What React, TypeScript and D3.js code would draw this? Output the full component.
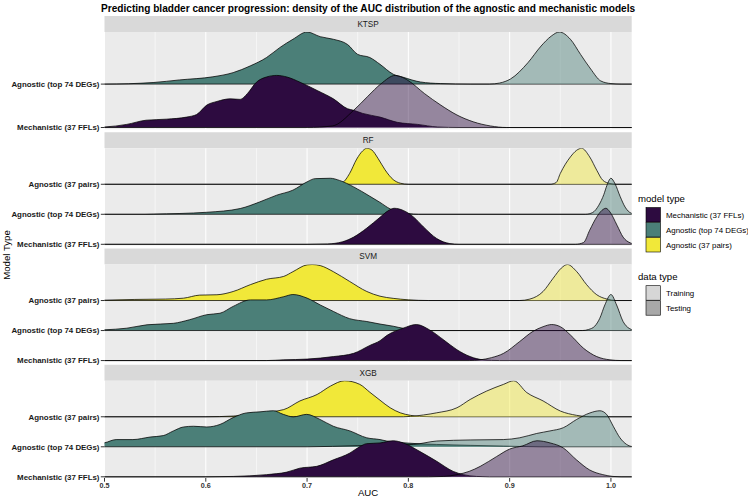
import React, { useEffect } from "react";
import * as d3 from "d3";

// ---------- data ----------
const facets = ["KTSP", "RF", "SVM", "XGB"];
const modelTypes = ["Mechanistic (37 FFLs)", "Agnostic (top 74 DEGs)", "Agnostic (37 pairs)"];
const modelColors = ["#2D0B40", "#4B7F78", "#F1E839"];
const dataTypes = ["Training", "Testing"];
const dataKeyColors = ["#D6D6D6", "#A8A8A8"];
// model indices present in each facet (bottom to top)
const facetModels = [[0, 1], [0, 1, 2], [0, 1, 2], [0, 1, 2]];
const xTicks = [0.5, 0.6, 0.7, 0.8, 0.9, 1.0];
const xTickLabels = ["0.5", "0.6", "0.7", "0.8", "0.9", "1.0"];
const xMinor = [0.55, 0.65, 0.75, 0.85, 0.95];

// scaled densities (max = 1): [AUC, density]
const ktspTop74Train = [[0.48, 0], [0.5, 0], [0.548, 0.03], [0.574, 0.08], [0.607, 0.14], [0.627, 0.22], [0.644, 0.35], [0.66, 0.51], [0.673, 0.7], [0.686, 0.86], [0.7, 1.0], [0.713, 0.91], [0.726, 0.86], [0.74, 0.76], [0.75, 0.57], [0.762, 0.51], [0.772, 0.38], [0.785, 0.19], [0.795, 0.13], [0.812, 0.04], [0.832, 0.01], [0.861, 0]];
const ktspTop74Test = [[0.88, 0], [0.89, 0.02], [0.901, 0.1], [0.918, 0.41], [0.931, 0.73], [0.941, 0.92], [0.949, 1.0], [0.96, 0.86], [0.97, 0.57], [0.98, 0.29], [0.99, 0.06], [1.0, 0.01], [1.01, 0]];
const ktspMechTrain = [[0.48, 0], [0.5, 0.01], [0.522, 0.06], [0.541, 0.14], [0.561, 0.16], [0.581, 0.2], [0.591, 0.25], [0.601, 0.43], [0.611, 0.5], [0.624, 0.55], [0.634, 0.54], [0.641, 0.65], [0.65, 0.87], [0.66, 0.97], [0.67, 1.0], [0.68, 0.97], [0.693, 0.87], [0.71, 0.71], [0.726, 0.55], [0.74, 0.36], [0.746, 0.33], [0.755, 0.27], [0.772, 0.2], [0.789, 0.1], [0.809, 0.06], [0.829, 0.01], [0.85, 0]];
const ktspMechTest = [[0.7, 0], [0.725, 0.03], [0.746, 0.33], [0.76, 0.6], [0.773, 0.84], [0.787, 1.0], [0.792, 0.98], [0.8, 0.9], [0.816, 0.65], [0.832, 0.43], [0.848, 0.24], [0.864, 0.11], [0.881, 0.03], [0.897, 0]];

const rfPairsTrain = [[0.72, 0], [0.728, 0.01], [0.735, 0.05], [0.742, 0.3], [0.749, 0.7], [0.755, 0.93], [0.759, 1.0], [0.764, 0.95], [0.77, 0.72], [0.777, 0.4], [0.785, 0.13], [0.792, 0.03], [0.8, 0]];
const rfPairsTest = [[0.94, 0], [0.946, 0.05], [0.95, 0.3], [0.96, 0.76], [0.966, 0.94], [0.971, 1.0], [0.979, 0.76], [0.986, 0.39], [0.992, 0.11], [0.999, 0.02], [1.005, 0]];
const rfTop74Train = [[0.54, 0], [0.548, 0.005], [0.601, 0.056], [0.634, 0.16], [0.653, 0.34], [0.67, 0.53], [0.686, 0.67], [0.7, 0.9], [0.708, 0.99], [0.723, 1.0], [0.732, 0.94], [0.746, 0.76], [0.762, 0.5], [0.772, 0.33], [0.782, 0.15], [0.792, 0.06], [0.8, 0.02], [0.81, 0]];
const rfTop74Test = [[0.975, 0], [0.982, 0.05], [0.988, 0.25], [0.993, 0.55], [0.996, 0.8], [1.0, 1.0], [1.004, 0.85], [1.009, 0.5], [1.014, 0.2], [1.02, 0.03], [1.025, 0]];
const rfMechTrain = [[0.7, 0], [0.72, 0.01], [0.735, 0.07], [0.746, 0.2], [0.759, 0.45], [0.772, 0.75], [0.78, 0.93], [0.786, 1.0], [0.795, 0.94], [0.805, 0.76], [0.815, 0.48], [0.828, 0.16], [0.841, 0.02], [0.85, 0]];
const rfMechTest = [[0.965, 0], [0.973, 0.05], [0.979, 0.39], [0.986, 0.76], [0.991, 0.94], [0.995, 1.0], [0.999, 0.9], [1.006, 0.53], [1.012, 0.2], [1.019, 0.04], [1.025, 0]];

const svmPairsTrain = [[0.48, 0], [0.5, 0.01], [0.53, 0.03], [0.56, 0.04], [0.578, 0.065], [0.594, 0.15], [0.611, 0.16], [0.627, 0.25], [0.644, 0.44], [0.66, 0.59], [0.677, 0.67], [0.686, 0.8], [0.7, 0.99], [0.705, 1.0], [0.713, 0.97], [0.726, 0.8], [0.742, 0.53], [0.759, 0.25], [0.772, 0.12], [0.785, 0.06], [0.8, 0.02], [0.82, 0]];
const svmPairsTest = [[0.91, 0], [0.92, 0.04], [0.933, 0.25], [0.943, 0.62], [0.951, 0.9], [0.957, 1.0], [0.966, 0.81], [0.976, 0.44], [0.986, 0.16], [0.996, 0.04], [1.005, 0]];
const svmTop74Train = [[0.48, 0], [0.5, 0.02], [0.522, 0.065], [0.542, 0.16], [0.568, 0.2], [0.584, 0.3], [0.601, 0.44], [0.614, 0.48], [0.627, 0.67], [0.644, 0.85], [0.66, 0.85], [0.677, 0.94], [0.686, 1.0], [0.7, 0.9], [0.713, 0.71], [0.726, 0.53], [0.742, 0.33], [0.759, 0.25], [0.772, 0.18], [0.785, 0.12], [0.795, 0.06], [0.81, 0.01], [0.82, 0]];
const svmTop74Test = [[0.972, 0], [0.978, 0.03], [0.984, 0.12], [0.989, 0.34], [0.994, 0.71], [1.0, 1.0], [1.0056, 0.71], [1.012, 0.25], [1.018, 0.06], [1.025, 0]];
const svmMechTrain = [[0.66, 0], [0.677, 0.02], [0.7, 0.04], [0.726, 0.11], [0.746, 0.2], [0.762, 0.42], [0.772, 0.55], [0.779, 0.7], [0.795, 0.9], [0.808, 1.0], [0.821, 0.85], [0.835, 0.57], [0.848, 0.3], [0.861, 0.11], [0.874, 0.02], [0.89, 0]];
const svmMechTest = [[0.86, 0], [0.871, 0.02], [0.882, 0.08], [0.894, 0.2], [0.91, 0.53], [0.923, 0.81], [0.933, 0.94], [0.9415, 1.0], [0.95, 0.94], [0.96, 0.71], [0.973, 0.34], [0.986, 0.11], [0.999, 0.02], [1.01, 0]];

const xgbPairsTrain = [[0.6, 0], [0.627, 0.02], [0.654, 0.11], [0.677, 0.2], [0.693, 0.44], [0.71, 0.62], [0.723, 0.85], [0.737, 1.0], [0.752, 0.9], [0.762, 0.68], [0.772, 0.46], [0.782, 0.25], [0.792, 0.11], [0.802, 0.04], [0.811, 0.01], [0.825, 0]];
const xgbPairsTest = [[0.795, 0], [0.802, 0.01], [0.815, 0.05], [0.828, 0.11], [0.848, 0.25], [0.861, 0.48], [0.877, 0.71], [0.894, 0.9], [0.904, 1.0], [0.917, 0.67], [0.933, 0.44], [0.95, 0.16], [0.966, 0.04], [0.979, 0]];
const xgbTop74Train = [[0.48, 0.06], [0.5, 0.11], [0.5115, 0.2], [0.528, 0.2], [0.545, 0.27], [0.558, 0.31], [0.568, 0.44], [0.578, 0.55], [0.588, 0.57], [0.601, 0.55], [0.614, 0.62], [0.627, 0.81], [0.64, 0.94], [0.6535, 0.97], [0.6667, 1.0], [0.6765, 0.9], [0.6864, 0.83], [0.6996, 0.9], [0.7127, 0.76], [0.7259, 0.57], [0.7423, 0.44], [0.7588, 0.25], [0.772, 0.2], [0.7786, 0.16], [0.795, 0.11], [0.828, 0.065], [0.861, 0.04], [0.894, 0.02], [0.93, 0]];
const xgbTop74Test = [[0.7, 0], [0.75, 0.03], [0.78, 0.05], [0.8048, 0.065], [0.828, 0.16], [0.861, 0.19], [0.8937, 0.2], [0.91, 0.25], [0.9267, 0.37], [0.9398, 0.44], [0.953, 0.53], [0.9662, 0.76], [0.9793, 0.94], [0.9891, 1.0], [0.9957, 0.9], [1.0023, 0.57], [1.0089, 0.25], [1.0155, 0.065], [1.0205, 0.01], [1.03, 0]];
const xgbMechTrain = [[0.6, 0], [0.627, 0.01], [0.66, 0.06], [0.68, 0.13], [0.693, 0.24], [0.7095, 0.29], [0.7259, 0.47], [0.7423, 0.66], [0.7522, 0.84], [0.7588, 0.92], [0.772, 0.94], [0.7851, 1.0], [0.795, 0.94], [0.8115, 0.7], [0.828, 0.43], [0.8443, 0.15], [0.8542, 0.06], [0.8674, 0.01], [0.88, 0]];
const xgbMechTest = [[0.82, 0], [0.835, 0.01], [0.848, 0.06], [0.86, 0.15], [0.871, 0.29], [0.887, 0.56], [0.9, 0.77], [0.913, 0.86], [0.927, 1.0], [0.94, 0.94], [0.953, 0.8], [0.966, 0.47], [0.979, 0.19], [0.992, 0.06], [1.002, 0.01], [1.01, 0]];

// curves[facet][model][dataType]
const curves: number[][][][][] = [
  [[ktspMechTrain, ktspMechTest], [ktspTop74Train, ktspTop74Test]],
  [[rfMechTrain, rfMechTest], [rfTop74Train, rfTop74Test], [rfPairsTrain, rfPairsTest]],
  [[svmMechTrain, svmMechTest], [svmTop74Train, svmTop74Test], [svmPairsTrain, svmPairsTest]],
  [[xgbMechTrain, xgbMechTest], [xgbTop74Train, xgbTop74Test], [xgbPairsTrain, xgbPairsTest]],
];

// ---------- layout ----------
const W = 748, H = 498;
const FONT = "'Liberation Sans', Arial, Helvetica, sans-serif";
const panelLeft = 104.5, panelRight = 631.7;
const topY = 16, stripH = 16, panelH = 97.25, gapH = 3;
const ridgeScale = 1.2;
const testAlpha = 0.45;

export default function App() {
  useEffect(() => {
    document.body.style.margin = "0";
  }, []);

  const x = d3.scaleLinear().domain([0.5, 1.0205]).range([panelLeft, panelRight]);

  const panels = facets.map((name, fi) => {
    const stripTop = topY + fi * (stripH + panelH + gapH);
    const pTop = stripTop + stripH;
    const pBot = pTop + panelH;
    const models = facetModels[fi];
    const y = d3.scaleLinear().domain([0.96, models.length + ridgeScale]).range([pBot, pTop]);
    return { name, fi, stripTop, pTop, pBot, models, y };
  });

  const clipX0 = x.range()[0], clipX1 = x.range()[1];

  return (
    <svg width={W} height={H} style={{ position: "absolute", left: 0, top: 0, background: "#fff" }} fontFamily={FONT}>
      <defs>
        {panels.map((p) => (
          <clipPath id={`clip${p.fi}`} key={p.fi}>
            <rect x={clipX0} y={p.pTop} width={clipX1 - clipX0} height={p.pBot - p.pTop} />
          </clipPath>
        ))}
      </defs>
      <rect x={0} y={0} width={W} height={H} fill="#fff" />
      <text x={(panelLeft + panelRight) / 2} y={11.5} textAnchor="middle" fontSize={10.1} fontWeight="bold" fill="#000">
        Predicting bladder cancer progression: density of the AUC distribution of the agnostic and mechanistic models
      </text>

      {panels.map((p) => {
        const { y } = p;
        return (
          <g key={p.name}>
            {/* strip */}
            <rect x={clipX0} y={p.stripTop} width={clipX1 - clipX0} height={stripH} fill="#D9D9D9" />
            <text x={(clipX0 + clipX1) / 2} y={p.stripTop + stripH / 2} dy="0.35em" textAnchor="middle" fontSize={8.2} fill="#1A1A1A">
              {p.name}
            </text>
            {/* panel */}
            <rect x={clipX0} y={p.pTop} width={clipX1 - clipX0} height={p.pBot - p.pTop} fill="#EBEBEB" />
            {xMinor.map((t) => (
              <line key={"mi" + t} x1={x(t)} x2={x(t)} y1={p.pTop} y2={p.pBot} stroke="#fff" strokeWidth={0.55} />
            ))}
            {xTicks.map((t) => (
              <line key={"ma" + t} x1={x(t)} x2={x(t)} y1={p.pTop} y2={p.pBot} stroke="#fff" strokeWidth={1.05} />
            ))}
            {p.models.map((m, k) => (
              <line key={"hg" + m} x1={clipX0} x2={clipX1} y1={y(k + 1)} y2={y(k + 1)} stroke="#fff" strokeWidth={1.05} />
            ))}
            {/* ridges, top category first */}
            <g clipPath={`url(#clip${p.fi})`}>
              {p.models
                .map((m, k) => ({ m, k }))
                .slice()
                .reverse()
                .map(({ m, k }) => {
                  const base = k + 1;
                  return dataTypes.map((dt, di) => {
                    const pts = curves[p.fi][k][di].slice();
                    if (pts[0][0] > 0.49) pts.unshift([0.48, 0]);
                    pts.push([1.04, 0]);
                    const area = d3
                      .area<number[]>()
                      .x((d) => x(d[0]))
                      .y0(y(base))
                      .y1((d) => y(base + d[1] * ridgeScale))
                      .curve(d3.curveMonotoneX);
                    const line = d3
                      .line<number[]>()
                      .x((d) => x(d[0]))
                      .y((d) => y(base + d[1] * ridgeScale))
                      .curve(d3.curveMonotoneX);
                    return (
                      <g key={`${m}-${dt}`}>
                        <path d={area(pts) || ""} fill={modelColors[m]} fillOpacity={di === 0 ? 1 : testAlpha} stroke="none" />
                        <path d={line(pts) || ""} fill="none" stroke="#000" strokeWidth={0.75} />
                      </g>
                    );
                  });
                })}
            </g>
            {/* y axis */}
            {p.models.map((m, k) => (
              <g key={"yl" + m}>
                <line x1={panelLeft - 3.7} x2={panelLeft} y1={y(k + 1)} y2={y(k + 1)} stroke="#333" strokeWidth={1} />
                <text x={panelLeft - 5} y={y(k + 1)} dy="0.35em" textAnchor="end" fontSize={7.9} fontWeight="bold" fill="#1A1A1A">
                  {modelTypes[m]}
                </text>
              </g>
            ))}
          </g>
        );
      })}

      {/* x axis */}
      {(() => {
        const last = panels[panels.length - 1];
        return (
          <g>
            {xTicks.map((t, i) => (
              <g key={"xt" + t}>
                <line x1={x(t)} x2={x(t)} y1={last.pBot} y2={last.pBot + 3.7} stroke="#333" strokeWidth={1} />
                <text x={x(t)} y={last.pBot + 9.8} textAnchor="middle" fontSize={7.2} fontWeight="bold" fill="#333">
                  {xTickLabels[i]}
                </text>
              </g>
            ))}
          </g>
        );
      })()}
      <text x={(panelLeft + panelRight) / 2} y={496} textAnchor="middle" fontSize={9.6} fill="#000">
        AUC
      </text>
      <text transform={`translate(9.5,${(32 + 478) / 2}) rotate(-90)`} textAnchor="middle" fontSize={9.6} fill="#000">
        Model Type
      </text>

      {/* legends */}
      <text x={638} y={202} fontSize={9.6} fill="#000">model type</text>
      {modelTypes.map((mt, i) => (
        <g key={"lm" + i}>
          <rect x={646} y={207.5 + i * 15} width={14.5} height={14.5} fill={modelColors[i]} stroke="#000" strokeWidth={0.6} />
          <text x={666} y={207.5 + i * 15 + 7.25} dy="0.35em" fontSize={7.9} fill="#000">{mt}</text>
        </g>
      ))}
      <text x={638} y={280} fontSize={9.6} fill="#000">data type</text>
      {dataTypes.map((dt, i) => (
        <g key={"ld" + i}>
          <rect x={646} y={285.7 + i * 15} width={14.5} height={14.5} fill={dataKeyColors[i]} stroke="#000" strokeWidth={0.6} />
          <text x={666} y={285.7 + i * 15 + 7.25} dy="0.35em" fontSize={7.9} fill="#000">{dt}</text>
        </g>
      ))}
    </svg>
  );
}
